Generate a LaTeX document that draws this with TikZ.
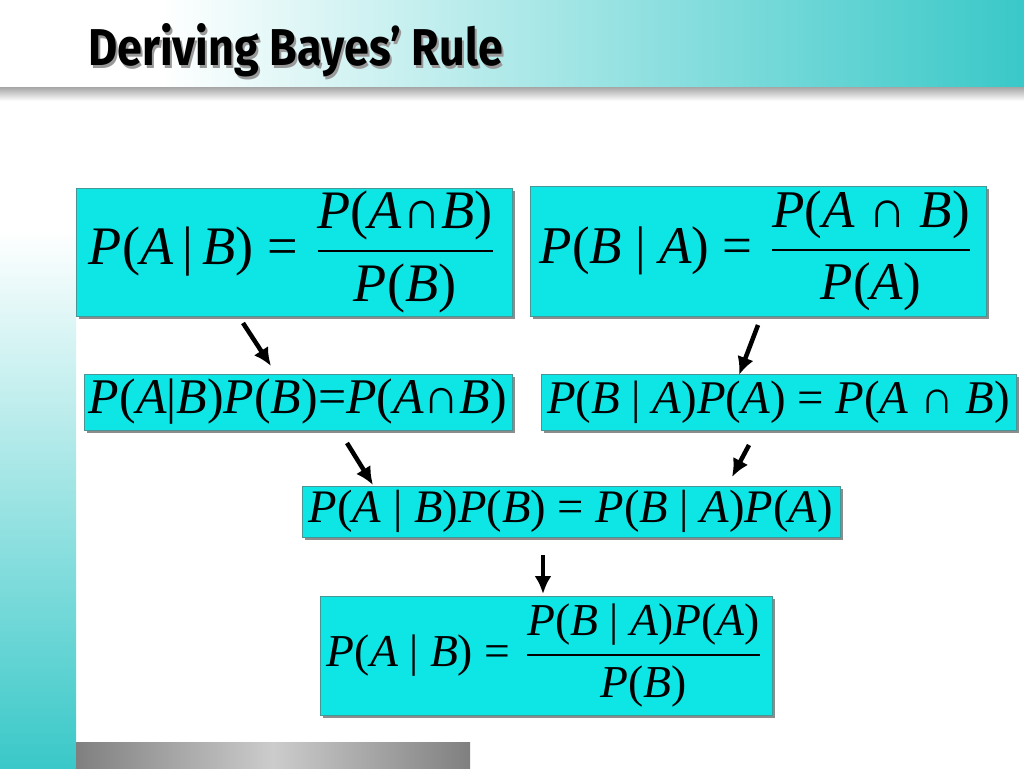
\documentclass[tikz,border=0pt]{standalone}
\usepackage{amsmath}
\usepackage{graphicx}
\usepackage{fontspec}
\setmainfont{Liberation Serif}
\newfontfamily\titlefont{Fira Sans}
\usepackage{tikz}
\usetikzlibrary{arrows.meta,shadows}

\definecolor{boxcyan}{RGB}{14,230,230}
\definecolor{boxedge}{RGB}{70,150,150}
\definecolor{slideteal}{RGB}{58,200,200}
\newcommand{\vr}[1]{\textit{#1}}

\tikzset{
    eqbox/.style={draw=boxedge, line width=0.8pt, fill=boxcyan, inner sep=0pt,
        drop shadow={shadow xshift=2.5pt, shadow yshift=-2.5pt, fill=black!45, opacity=1}},
    downarrow/.style={-{Latex[length=18pt,width=17pt]}, line width=4.5pt}
}

\begin{document}
\begin{tikzpicture}[x=1pt, y=-1pt]
        \useasboundingbox (0,0) rectangle (1024,768);

        % slide background
        \fill[white] (0,0) rectangle (1024,768);
        \shade[left color=white, right color=slideteal] (160,0) rectangle (1024,87);
        \shade[top color=black!35, bottom color=white] (0,87) rectangle (1024,101);
        \shade[top color=white, bottom color=slideteal] (0,230) rectangle (76,768);
        \shade[right color=black!50, left color=black!50, middle color=black!20] (76,742) rectangle (470,768);

        \node[anchor=base west, inner sep=0pt, text=black!40] at (90,68)
            {\resizebox{415pt}{42pt}{\titlefont\bfseries Deriving Bayes’ Rule}};
        \node[anchor=base west, inner sep=0pt] (title) at (88,66)
            {\resizebox{415pt}{42pt}{\titlefont\bfseries Deriving Bayes’ Rule}};

        % the six formulas
        \node[eqbox, minimum width=436pt, minimum height=128pt] (condab) at (294,252)
            {\resizebox{410pt}{!}{$\mbox{\vr{P}(\vr{A}\,|\,\vr{B}) = }\displaystyle\frac{\mbox{\vr{P}(\vr{A}∩\vr{B})}}{\mbox{\vr{P}(\vr{B})}}$}};
        \node[eqbox, minimum width=456pt, minimum height=130pt] (condba) at (758,251)
            {\resizebox{436pt}{!}{$\mbox{\vr{P}(\vr{B} | \vr{A}) = }\displaystyle\frac{\mbox{\vr{P}(\vr{A} ∩ \vr{B})}}{\mbox{\vr{P}(\vr{A})}}$}};

        \node[eqbox, minimum width=428pt, minimum height=56pt] (prodab) at (298,402)
            {\resizebox{418pt}{!}{\vr{P}(\vr{A}|\vr{B})\vr{P}(\vr{B})=\vr{P}(\vr{A}∩\vr{B})}};
        \node[eqbox, minimum width=475pt, minimum height=56pt] (prodba) at (778.5,402)
            {\resizebox{463pt}{!}{\vr{P}(\vr{B} | \vr{A})\vr{P}(\vr{A}) = \vr{P}(\vr{A} ∩ \vr{B})}};

        \node[eqbox, minimum width=538pt, minimum height=51pt] (equal) at (571,511.5)
            {\resizebox{524pt}{!}{\vr{P}(\vr{A} | \vr{B})\vr{P}(\vr{B}) = \vr{P}(\vr{B} | \vr{A})\vr{P}(\vr{A})}};

        \node[eqbox, minimum width=452pt, minimum height=119pt] (bayes) at (546,655.5)
            {\resizebox{438pt}{!}{$\mbox{\vr{P}(\vr{A} | \vr{B}) = }\displaystyle\frac{\mbox{\vr{P}(\vr{B} | \vr{A})\vr{P}(\vr{A})}}{\mbox{\vr{P}(\vr{B})}}$}};

        % arrows between steps
        \coordinate (a1s) at (243,323);
        \coordinate (a1e) at (271,366);
        \coordinate (a2s) at (758,325);
        \coordinate (a2e) at (739,375);
        \coordinate (a3s) at (347,443);
        \coordinate (a3e) at (373,485);
        \coordinate (a4s) at (749,445);
        \coordinate (a4e) at (732,477);
        \coordinate (a5s) at (543,555);
        \coordinate (a5e) at (543,594);

        \draw[downarrow] (a1s) -- (a1e);
        \draw[downarrow] (a2s) -- (a2e);
        \draw[downarrow] (a3s) -- (a3e);
        \draw[downarrow] (a4s) -- (a4e);
        \draw[downarrow] (a5s) -- (a5e);
\end{tikzpicture}
\end{document}
